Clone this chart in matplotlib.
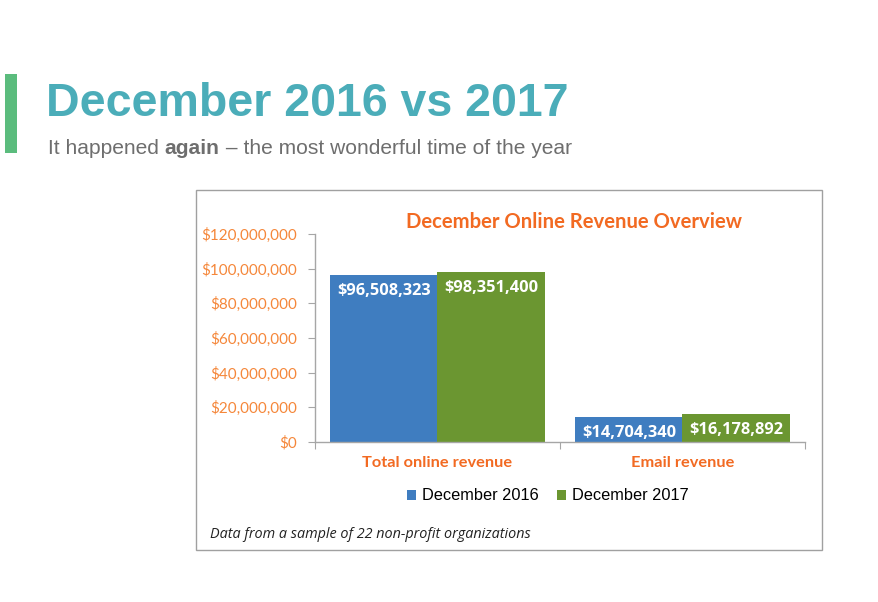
import matplotlib.pyplot as plt
from matplotlib.patches import Rectangle
import numpy as np

# chart data
categories = ['Total online revenue', 'Email revenue']
series_names = ['December 2016', 'December 2017']
dec_2016 = [96508323, 14704340]
dec_2017 = [98351400, 16178892]
yticks = [0, 20000000, 40000000, 60000000, 80000000, 100000000, 120000000]

blue = '#3F7DC0'
green = '#6B9631'
orange = '#F26A22'
tick_orange = '#F5873A'
axis_gray = '#A6A6A6'
teal = '#4BADB9'

fig = plt.figure(figsize=(8.79, 6.02), dpi=100)
fig.patch.set_facecolor('white')

# slide header
fig.add_artist(Rectangle((5/879, 1-153/602), 12/879, 79/602,
                         transform=fig.transFigure, color='#5BBC7D', lw=0))
fig.text(46/879, 1-104/602, 'December 2016 vs 2017', fontsize=33.5, fontweight='bold',
         color=teal, family='Liberation Sans', va='center', ha='left')

# subtitle in three pieces so "again" can be bold
renderer = fig.canvas.get_renderer()
xpos = 48/879
for piece, wt in [('It happened ', 'normal'), ('again', 'bold'),
                  (' \u2013 the most wonderful time of the year', 'normal')]:
    t = fig.text(xpos, 1-148/602, piece, fontsize=15.1, color='#6E6E6E', fontweight=wt,
                 family='Liberation Sans', va='center', ha='left')
    bb = t.get_window_extent(renderer=renderer)
    xpos += bb.width / fig.bbox.width

# chart frame
fig.add_artist(Rectangle((196/879, 1-550/602), 626/879, 360/602, transform=fig.transFigure,
                         facecolor='white', edgecolor='#A0A0A0', lw=1.0, zorder=0))

ax = fig.add_axes([315/879, 1-442/602, 490/879, 208/602])
ax.set_facecolor('none')

x = np.arange(len(categories))
w = 0.437
b1 = ax.bar(x - w/2, dec_2016, w, color=blue, label=series_names[0])
b2 = ax.bar(x + w/2, dec_2017, w, color=green, label=series_names[1])

for bars, vals in [(b1, dec_2016), (b2, dec_2017)]:
    for rect, v in zip(bars, vals):
        ax.annotate(f'${v:,.0f}', (rect.get_x() + rect.get_width()/2, v),
                    xytext=(0, -6), textcoords='offset points', ha='center', va='top',
                    color='white', fontsize=11.8, fontweight='bold', family='Open Sans')

ax.set_xlim(-0.5, 1.5)
ax.set_ylim(0, 120000000)
ax.set_yticks(yticks)
ax.set_yticklabels([f'${t:,.0f}' for t in yticks], color=tick_orange, fontsize=11,
                   family='Lato')
ax.set_xticks([-0.5, 0.5, 1.5])
ax.set_xticklabels([])
for i, c in enumerate(categories):
    ax.text(i, -12000000, c, ha='center', va='center', color=orange, fontsize=11.8,
            fontweight='bold', family='Lato')

for s in ['top', 'right']:
    ax.spines[s].set_visible(False)
for s in ['left', 'bottom']:
    ax.spines[s].set_color(axis_gray)
    ax.spines[s].set_linewidth(1.0)
ax.tick_params(axis='y', direction='out', length=5, color=axis_gray, pad=8)
ax.tick_params(axis='x', direction='out', length=5, color=axis_gray)

fig.text(574/879, 1-222/602, 'December Online Revenue Overview', ha='center', va='center',
         color=orange, fontsize=14.6, fontweight='bold', family='Lato')

fig.legend(handles=[b1, b2], labels=series_names, loc='center', ncol=2,
           bbox_to_anchor=(548/879, 1-496/602), frameon=False,
           handlelength=0.55, handleheight=0.55, handletextpad=0.35, columnspacing=1.15,
           prop={'family': 'Liberation Sans', 'size': 11.8})

fig.text(210/879, 1-535/602, 'Data from a sample of 22 non-profit organizations',
         ha='left', va='center', fontsize=10.4, style='italic', family='Open Sans',
         color='#222222')

fig.savefig('out.png', dpi=100)
